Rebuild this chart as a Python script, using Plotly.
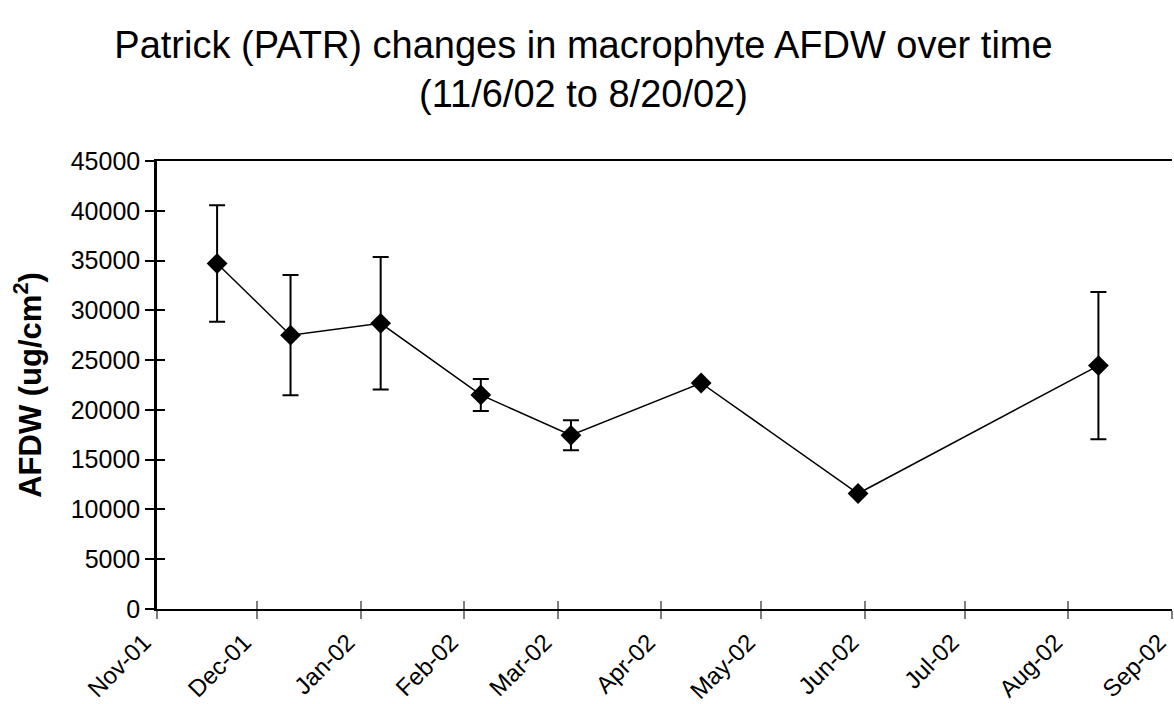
import plotly.graph_objects as go

dates = ["2001-11-19", "2001-12-11", "2002-01-07", "2002-02-06", "2002-03-05",
         "2002-04-13", "2002-05-30", "2002-08-10"]
afdw = [34700, 27500, 28700, 21500, 17450, 22700, 11600, 24450]
err = [5850, 6040, 6650, 1610, 1510, None, None, 7400]

tick_dates = ["2001-11-01", "2001-12-01", "2002-01-01", "2002-02-01", "2002-03-01",
              "2002-04-01", "2002-05-01", "2002-06-01", "2002-07-01", "2002-08-01",
              "2002-09-01"]
tick_labels = ["Nov-01", "Dec-01", "Jan-02", "Feb-02", "Mar-02", "Apr-02", "May-02",
               "Jun-02", "Jul-02", "Aug-02", "Sep-02"]
y_ticks = [0, 5000, 10000, 15000, 20000, 25000, 30000, 35000, 40000, 45000]

FONT = "Liberation Sans, Arial, sans-serif"

fig = go.Figure()
fig.add_trace(go.Scatter(
    x=dates, y=afdw, mode="lines+markers",
    line=dict(color="black", width=1.5),
    marker=dict(symbol="diamond", size=16, color="black"),
    error_y=dict(type="data", array=err, symmetric=True, color="black",
                 thickness=2, width=8),
    showlegend=False,
))
# invisible trace to carry inside-tick overlay axes
fig.add_trace(go.Scatter(x=[dates[0]], y=[afdw[0]], xaxis="x2", yaxis="y2",
                         mode="markers", marker=dict(opacity=0), showlegend=False,
                         hoverinfo="skip"))

xr = [tick_dates[0], tick_dates[-1] + " 01:00"]
yr = [0, 45000]

fig.update_layout(
    width=1174, height=704,
    paper_bgcolor="white", plot_bgcolor="white",
    margin=dict(l=157, r=2, t=161, b=95),
    font=dict(family=FONT, color="black"),
    title=dict(
        text="Patrick (PATR) changes in macrophyte AFDW over time<br>(11/6/02 to 8/20/02)",
        x=0.497, xanchor="center", y=1 - 58 / 704, yanchor="top",
        font=dict(size=38, family=FONT, color="black"),
    ),
    xaxis=dict(
        type="date", range=xr, tickvals=tick_dates, ticktext=tick_labels,
        tickangle=-45, tickfont=dict(size=24, family=FONT),
        ticklabeloverflow="allow", automargin=False, ticklabelshift=-13,
        showgrid=False, zeroline=False,
        showline=True, linecolor="black", linewidth=1.5, mirror=True,
        ticks="outside", ticklen=8, tickcolor="#808080", tickwidth=2,
    ),
    yaxis=dict(
        range=yr, tickvals=y_ticks, tickformat="d", tickfont=dict(size=25, family=FONT),
        automargin=False,
        showgrid=False, zeroline=False,
        showline=True, linecolor="black", linewidth=2.5,
        ticks="outside", ticklen=9, tickcolor="black", tickwidth=1.5,
        title=dict(text="<b>AFDW (ug/cm<sup>2</sup>)</b>",
                   font=dict(size=31, family=FONT), standoff=20),
    ),
    xaxis2=dict(
        type="date", range=xr, tickvals=tick_dates, overlaying="x",
        showticklabels=False, showgrid=False, zeroline=False, showline=False,
        ticks="inside", ticklen=8, tickcolor="#808080", tickwidth=2,
    ),
    yaxis2=dict(
        range=yr, tickvals=y_ticks, overlaying="y", side="left",
        showticklabels=False, showgrid=False, zeroline=False, showline=False,
        ticks="inside", ticklen=8, tickcolor="black", tickwidth=1.5,
    ),
)

fig.write_html("out.html", config={"displayModeBar": False},
               post_script="document.body.style.margin='0';")
